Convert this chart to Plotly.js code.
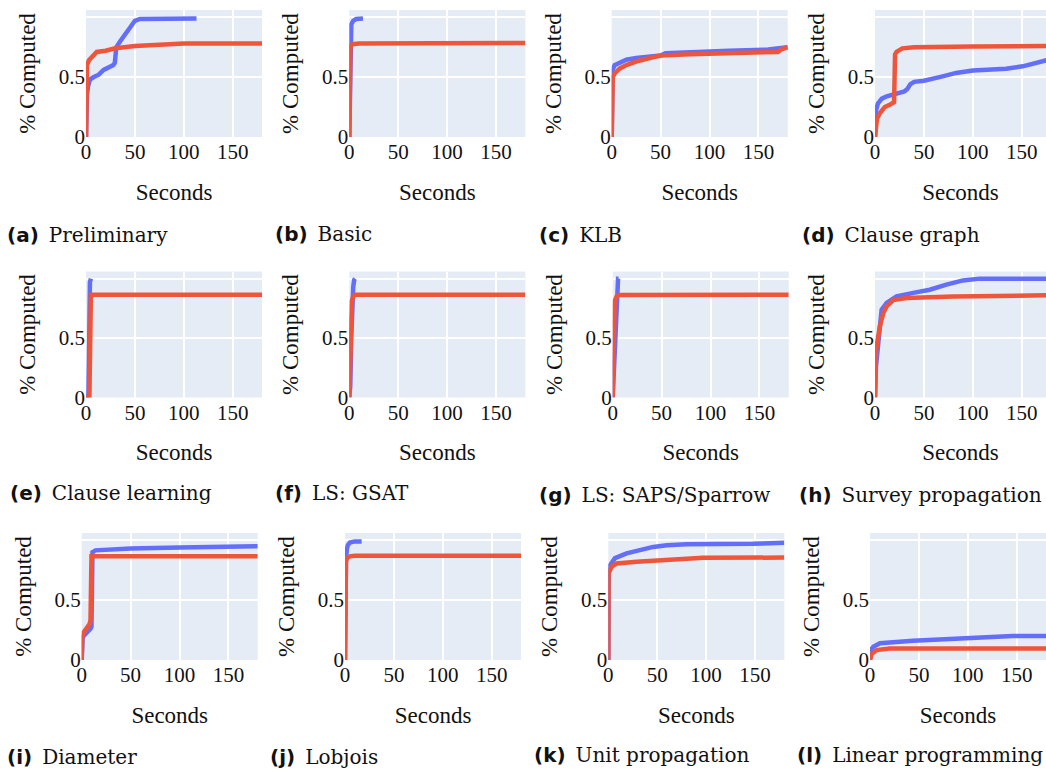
<!DOCTYPE html>
<html>
<head>
<meta charset="utf-8">
<script src="https://cdn.plot.ly/plotly-3.0.1.min.js"></script>
<style>
html,body{margin:0;padding:0;background:#fff;overflow:hidden;}
#chart{width:1046px;height:771px;}
#chart svg text{font-family:'Liberation Serif',serif !important;}
#chart svg text.annotation-text{font-family:'DejaVu Serif',serif !important;}
#chart svg text.annotation-text tspan[style*="bold"]{font-family:'DejaVu Sans',sans-serif !important;font-weight:bold !important;}
</style>
</head>
<body>
<div id="chart"></div>
<script>
// ---------- DATA (seconds, fraction computed) ----------
const panelLetters = ['a','b','c','d','e','f','g','h','i','j','k','l'];
const panelCaptions = ['Preliminary','Basic','KLB','Clause graph','Clause learning','LS: GSAT',
  'LS: SAPS/Sparrow','Survey propagation','Diameter','Lobjois','Unit propagation','Linear programming'];
const xTickVals = [0, 50, 100, 150];
const yTickVals = [0, 0.5, 1];
const yTickText = ['0', '0.5', ''];
const xTitle = 'Seconds';
const yTitle = '% Computed';

// (a) Preliminary
const aBlueX = [0, 0.3, 1, 2, 4, 8, 13, 18, 22, 28, 29.5, 30, 31, 35, 40, 45, 50, 55, 80, 113];
const aBlueY = [0, 0.2, 0.35, 0.42, 0.48, 0.5, 0.52, 0.56, 0.58, 0.6, 0.62, 0.7, 0.75, 0.8, 0.86, 0.92, 0.97, 0.985, 0.99, 0.99];
const aRedX = [0, 0.3, 1, 3, 6, 11, 20, 30, 50, 70, 100, 180];
const aRedY = [0, 0.56, 0.6, 0.64, 0.67, 0.71, 0.72, 0.74, 0.76, 0.765, 0.78, 0.78];
// (b) Basic
const bBlueX = [0, 0.5, 1, 2, 4, 7, 14];
const bBlueY = [0, 0.5, 0.85, 0.94, 0.97, 0.985, 0.99];
const bRedX = [0, 0.5, 1, 3, 10, 180];
const bRedY = [0, 0.6, 0.75, 0.775, 0.78, 0.785];
// (c) KLB
const cBlueX = [0, 0.3, 1, 3, 8, 15, 25, 40, 50, 55, 80, 120, 160, 180];
const cBlueY = [0, 0.4, 0.56, 0.6, 0.62, 0.645, 0.66, 0.675, 0.68, 0.7, 0.71, 0.72, 0.73, 0.75];
const cRedX = [0, 0.3, 1, 3, 8, 15, 25, 40, 50, 80, 120, 170, 173, 180];
const cRedY = [0, 0.45, 0.5, 0.53, 0.57, 0.6, 0.63, 0.66, 0.68, 0.69, 0.7, 0.71, 0.73, 0.75];
// (d) Clause graph
const dBlueX = [0, 0.5, 1, 3, 7, 12, 22, 30, 33, 36, 40, 50, 66, 83, 100, 134, 151, 160, 166, 175, 180];
const dBlueY = [0, 0.15, 0.22, 0.28, 0.32, 0.34, 0.36, 0.38, 0.4, 0.44, 0.46, 0.47, 0.5, 0.535, 0.555, 0.57, 0.59, 0.61, 0.625, 0.64, 0.65];
const dRedX = [0, 1, 2, 5, 10, 15, 19.5, 20.5, 22, 28, 40, 100, 180];
const dRedY = [0, 0.1, 0.15, 0.2, 0.25, 0.27, 0.29, 0.69, 0.71, 0.74, 0.75, 0.755, 0.76];
// (e) Clause learning
const eBlueX = [0, 2.5, 3, 3.5, 4, 5];
const eBlueY = [0, 0.02, 0.3, 0.9, 0.97, 1.0];
const eRedX = [0, 3.5, 4, 4.5, 5, 180];
const eRedY = [0, 0.01, 0.3, 0.85, 0.865, 0.865];
// (f) LS: GSAT
const fBlueX = [0, 1, 2, 3, 4, 5, 6];
const fBlueY = [0, 0.1, 0.5, 0.8, 0.93, 0.99, 1.0];
const fRedX = [0, 1, 2, 2.5, 4, 6, 180];
const fRedY = [0, 0.3, 0.65, 0.81, 0.85, 0.865, 0.865];
// (g) LS: SAPS/Sparrow
const gBlueX = [0, 1, 2, 3, 4, 5, 5.5, 6];
const gBlueY = [0, 0.2, 0.45, 0.6, 0.8, 0.93, 1.0, 1.0];
const gRedX = [0, 0.5, 1, 2, 4, 6, 180];
const gRedY = [0, 0.4, 0.77, 0.81, 0.85, 0.862, 0.865];
// (h) Survey propagation
const hBlueX = [0, 1, 3.4, 5, 6.8, 11.9, 22, 39, 56, 73, 90, 107, 180];
const hBlueY = [0, 0.26, 0.46, 0.6, 0.74, 0.795, 0.85, 0.88, 0.907, 0.95, 0.985, 1.0, 1.0];
const hRedX = [0, 1, 5, 8.5, 11.9, 18.7, 32, 80, 180];
const hRedY = [0, 0.4, 0.6, 0.71, 0.766, 0.82, 0.837, 0.85, 0.86];
// (i) Diameter
const iBlueX = [0, 0.5, 1, 3, 6, 9, 10, 10.5, 11, 14, 30, 50, 100, 150, 180];
const iBlueY = [0, 0.15, 0.19, 0.21, 0.23, 0.26, 0.28, 0.85, 0.9, 0.915, 0.925, 0.93, 0.94, 0.945, 0.95];
const iRedX = [0, 0.5, 2, 5, 8, 9, 9.5, 10, 180];
const iRedY = [0, 0.2, 0.23, 0.26, 0.3, 0.33, 0.86, 0.865, 0.865];
// (j) Lobjois
const jBlueX = [0, 0.5, 1, 2, 3, 5, 10, 17];
const jBlueY = [0, 0.6, 0.85, 0.93, 0.96, 0.98, 0.99, 0.99];
const jRedX = [0, 0.5, 1, 2, 5, 10, 180];
const jRedY = [0, 0.5, 0.82, 0.85, 0.865, 0.87, 0.87];
// (k) Unit propagation
const kBlueX = [0, 0.3, 1.7, 6.8, 18.7, 32, 46, 60, 80, 148, 180];
const kBlueY = [0, 0.75, 0.79, 0.85, 0.89, 0.917, 0.944, 0.958, 0.967, 0.97, 0.978];
const kRedX = [0, 0.3, 3.4, 8.5, 29, 63, 97, 180];
const kRedY = [0, 0.72, 0.78, 0.805, 0.82, 0.84, 0.853, 0.855];
// (l) Linear programming
const lBlueX = [0, 0.5, 3.4, 10.2, 44, 78, 112, 146, 180];
const lBlueY = [0, 0.08, 0.11, 0.14, 0.16, 0.175, 0.19, 0.2, 0.2];
const lRedX = [0, 1.7, 6.8, 20, 50, 180];
const lRedY = [0, 0.05, 0.083, 0.095, 0.097, 0.097];

const blueX = [aBlueX,bBlueX,cBlueX,dBlueX,eBlueX,fBlueX,gBlueX,hBlueX,iBlueX,jBlueX,kBlueX,lBlueX];
const blueY = [aBlueY,bBlueY,cBlueY,dBlueY,eBlueY,fBlueY,gBlueY,hBlueY,iBlueY,jBlueY,kBlueY,lBlueY];
const redX = [aRedX,bRedX,cRedX,dRedX,eRedX,fRedX,gRedX,hRedX,iRedX,jRedX,kRedX,lRedX];
const redY = [aRedY,bRedY,cRedY,dRedY,eRedY,fRedY,gRedY,hRedY,iRedY,jRedY,kRedY,lRedY];

// ---------- LAYOUT GEOMETRY (pixels) ----------
const W = 1046, H = 771;
const pxPerSec = 0.978;
const plotLeft = [86, 349.3, 611.7, 875, 86, 349.3, 612.7, 875, 81.7, 345, 608.3, 870];
const rowTop = [10, 271.5, 533];
const rowBottom = [137, 397.5, 660];
const capLeft = [5, 272.7, 536.7, 800, 8.3, 272.7, 536.7, 796.7, 5, 268.3, 531.7, 795];
const capMid = [235, 234, 235, 235, 493, 493, 495, 495, 756.5, 756.5, 755, 755];

function axisFont() { return {family: 'Liberation Serif', size: 21, color: '#111'}; }
function titleFont() { return {family: 'Liberation Serif', size: 23, color: '#111'}; }

const traces = [];
const layout = {
  width: W, height: H,
  margin: {l: 0, r: 0, t: 0, b: 0},
  paper_bgcolor: '#fff',
  plot_bgcolor: '#E5ECF6',
  showlegend: false,
  annotations: []
};

for (let p = 0; p < 12; p++) {
  const n = p + 1;
  const sfx = n === 1 ? '' : String(n);
  const row = Math.floor(p / 4);
  const left = plotLeft[p];
  const right = Math.min(W, left + 180 * pxPerSec);
  const xmax = (right - left) / pxPerSec;
  traces.push({x: blueX[p], y: blueY[p], type: 'scatter', mode: 'lines', name: 'Series 1',
    xaxis: 'x' + sfx, yaxis: 'y' + sfx, line: {color: '#636EFA', width: 4.5}});
  traces.push({x: redX[p], y: redY[p], type: 'scatter', mode: 'lines', name: 'Series 2',
    xaxis: 'x' + sfx, yaxis: 'y' + sfx, line: {color: '#EF553B', width: 4.5}});
  layout['xaxis' + sfx] = {
    domain: [left / W, right / W],
    anchor: 'y' + sfx,
    range: [0, xmax],
    tickvals: xTickVals,
    tickfont: axisFont(),
    gridcolor: '#fff', gridwidth: 2,
    zeroline: false, showline: false, ticks: '',
    title: {text: xTitle, font: titleFont(), standoff: 20}
  };
  layout['yaxis' + sfx] = {
    domain: [1 - rowBottom[row] / H, 1 - rowTop[row] / H],
    anchor: 'x' + sfx,
    range: [0, 1.06],
    tickvals: yTickVals,
    ticktext: yTickText,
    tickfont: axisFont(),
    gridcolor: '#fff', gridwidth: 2,
    zeroline: false, showline: false, ticks: '',
    title: {text: yTitle, font: titleFont(), standoff: 16}
  };
  layout.annotations.push({
    xref: 'paper', yref: 'paper',
    x: capLeft[p] / W, y: 1 - capMid[p] / H,
    xanchor: 'left', yanchor: 'middle',
    showarrow: false,
    text: '<b style="font-family:DejaVu Sans">(' + panelLetters[p] + ')</b>\u2002' + panelCaptions[p],
    font: {family: 'DejaVu Serif', size: 20, color: '#111'}
  });
}

Plotly.newPlot('chart', traces, layout, {displayModeBar: false});
</script>
</body>
</html>
